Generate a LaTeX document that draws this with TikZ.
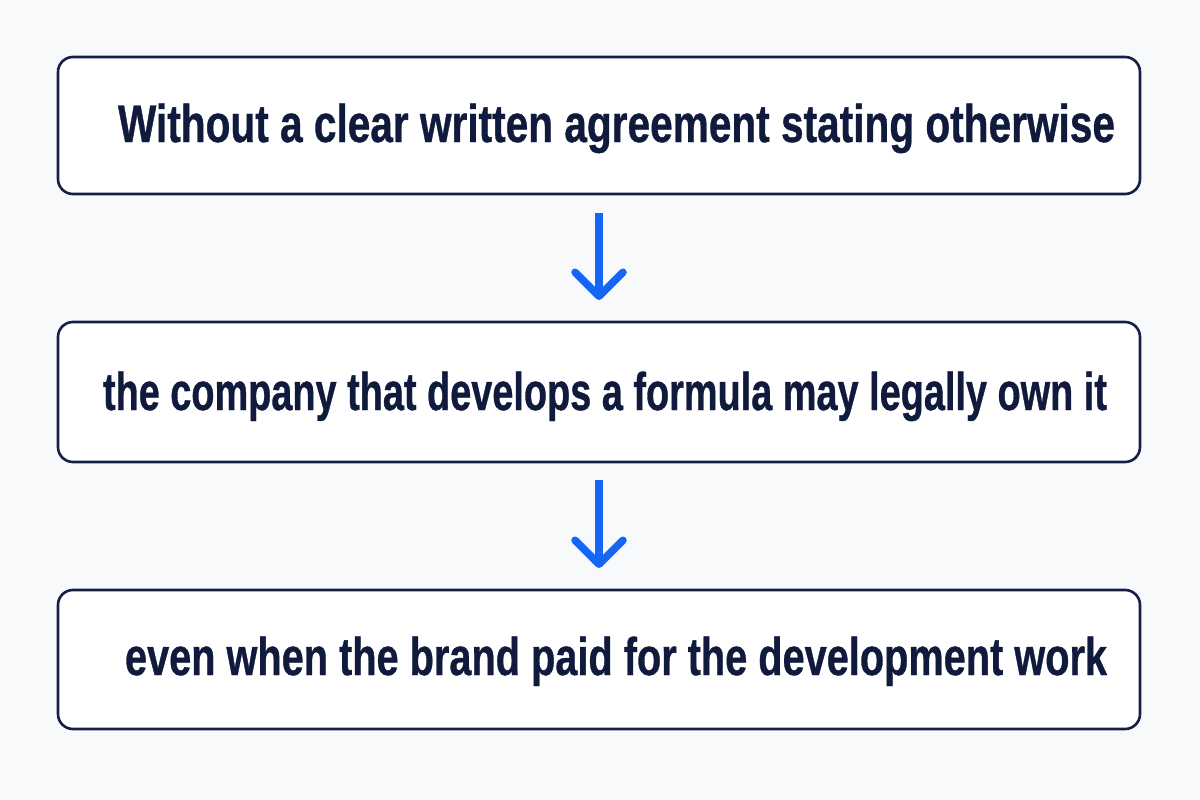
\documentclass[tikz,border=0pt]{standalone}
\usepackage{fontspec}
\setmainfont{Liberation Sans}
\newfontfamily\heavyfont[FakeBold=0.8]{Liberation Sans Bold}
\usetikzlibrary{arrows.meta}
\definecolor{navy}{RGB}{16,26,60}
\definecolor{boxline}{RGB}{20,30,70}
\definecolor{arrblue}{RGB}{22,102,245}
\definecolor{bg}{RGB}{248,249,251}
\tikzset{
  stepbox/.style={draw=boxline, line width=2.6pt, rounded corners=15pt, fill=white,
    minimum width=1082pt, outer sep=0pt, inner sep=0pt},
  steptext/.style={anchor=base west, inner sep=0pt, outer sep=0pt, text=navy,
    font=\fontsize{53}{60}\selectfont\heavyfont},
  flowarrow/.style={draw=arrblue, line width=7.5pt,
    -{Straight Barb[length=24pt,width=48pt,round]}}
}
\begin{document}
\begin{tikzpicture}[x=1pt,y=-1pt]
\fill[bg] (0,0) rectangle (1200,800);
\useasboundingbox (0,0) rectangle (1200,800);
\node[stepbox, minimum height=137pt] (b1) at (599,125.5) {};
\node[stepbox, minimum height=140pt] (b2) at (599,392) {};
\node[stepbox, minimum height=139pt] (b3) at (599,659.5) {};
\node[steptext] (t1) at (118,142) {\resizebox{997pt}{\height}{Without a clear written agreement stating otherwise}};
\node[steptext] (t2) at (103,410) {\resizebox{1004pt}{\height}{the company that develops a formula may legally own it}};
\node[steptext] (t3) at (125,675) {\resizebox{982pt}{\height}{even when the brand paid for the development work}};
\draw[flowarrow, shorten <=19pt, shorten >=22pt] (b1.south) -- (b2.north);
\draw[flowarrow, shorten <=18pt, shorten >=22pt] (b2.south) -- (b3.north);
\end{tikzpicture}
\end{document}
